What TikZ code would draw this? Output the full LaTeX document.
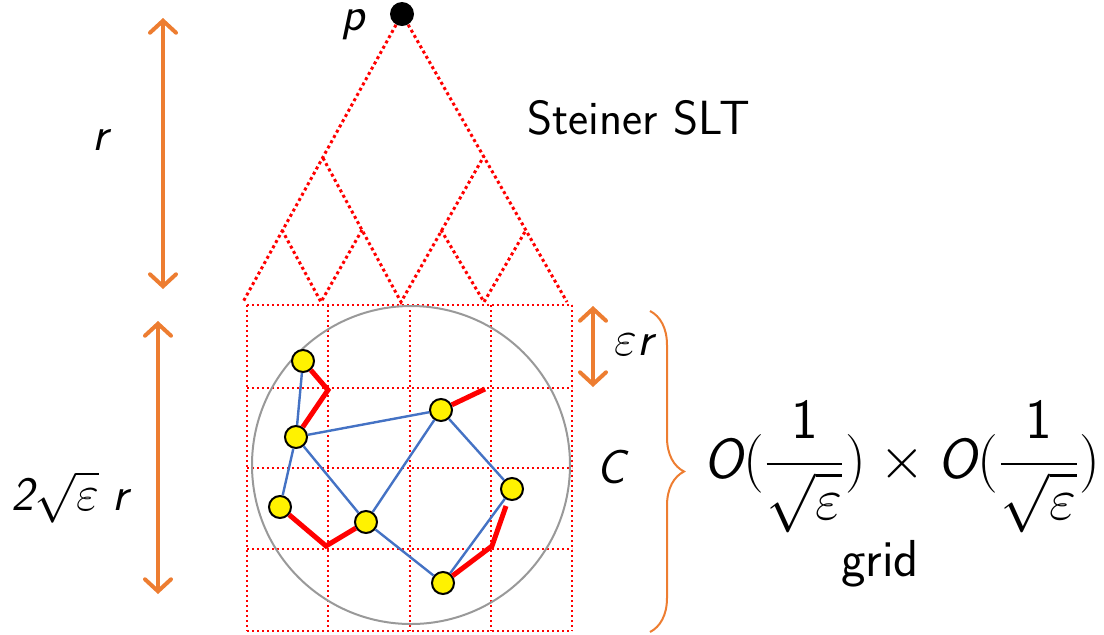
\documentclass[tikz,border=0pt]{standalone}
\usepackage{amsmath}
\usepackage{graphicx}
\usetikzlibrary{arrows.meta,decorations.pathreplacing}
\definecolor{dimorange}{RGB}{237,125,49}
\definecolor{edgeblue}{RGB}{68,114,196}
\newcommand{\sfit}[1]{\text{\sffamily\itshape #1}}
\newcommand{\sfup}[1]{\text{\sffamily #1}}

\begin{document}
\begin{tikzpicture}[x=0.5pt, y=-0.5pt,
    lbl/.style={font=\fontsize{24}{29}\selectfont\sffamily, inner sep=0pt},
    tree/.style={red, line width=1.5pt, dash pattern=on 1.5pt off 1.5pt},
    gridline/.style={red, line width=1.2pt, dash pattern=on 1.2pt off 1.3pt},
    term/.style={circle, draw=black, fill=yellow, line width=1pt, minimum size=11pt, inner sep=0pt},
    edge/.style={edgeblue, line width=1.2pt},
    steiner/.style={red, line width=2.5pt},
    dim/.style={dimorange, line width=2pt, line cap=round,
      {Straight Barb[length=6pt, width=13pt, line cap=round]}-{Straight Barb[length=6pt, width=13pt, line cap=round]}}
  ]
    \useasboundingbox (0,0) rectangle (1104,634);

    % root and the Steiner shallow-light tree
    \node[circle, fill=black, minimum size=12pt, inner sep=0pt] (p) at (402,14) {};
    \node[lbl] (plbl) at (353,25) {$\sfit{p}$};
    \coordinate (bl) at (243,302);
    \coordinate (br) at (567,302);
    \coordinate (l1) at (323,158);
    \coordinate (r1) at (484,156);
    \coordinate (m) at (401,302);
    \coordinate (l2) at (282,230);
    \coordinate (q1) at (362,230);
    \coordinate (b1) at (321,302);
    \coordinate (q2) at (441,230);
    \coordinate (r2) at (526,230);
    \coordinate (b2) at (484,302);
    \draw[tree] (p) -- (bl);
    \draw[tree] (p) -- (br);
    \draw[tree] (l1) -- (m) -- (r1);
    \draw[tree] (l2) -- (b1) -- (q1);
    \draw[tree] (q2) -- (b2) -- (r2);
    \node[lbl, anchor=west] (slt) at (527,118) {Steiner SLT};

    % grid over the cluster
    \foreach \gx in {247,328,410,491,572}
      \draw[gridline] (\gx,305) -- (\gx,631);
    \foreach \gy in {305,388,468,549,631}
      \draw[gridline] (247,\gy) -- (572,\gy);
    \draw[gray!80, line width=1pt] (411,465) circle[radius=159];

    % terminals
    \node[term] (n1) at (303,361) {};
    \node[term] (n2) at (296,437) {};
    \node[term] (n3) at (280,507) {};
    \node[term] (n4) at (366,522) {};
    \node[term] (n5) at (441,410) {};
    \node[term] (n6) at (512,489) {};
    \node[term] (n7) at (443,583) {};
    \coordinate (s1) at (328,390);
    \coordinate (s2) at (485,389);
    \coordinate (s3) at (326,546);
    \coordinate (s4) at (492,546);
    \coordinate (s5) at (506,506);

    \draw[edge] (n1) -- (n2);
    \draw[edge] (n2) -- (n3);
    \draw[edge] (n2) -- (n5);
    \draw[edge] (n2) -- (n4);
    \draw[edge] (n4) -- (n5);
    \draw[edge] (n5) -- (n6);
    \draw[edge] (n4) -- (n7);
    \draw[edge] (n7) -- (n6);

    \draw[steiner] (n1) -- (s1) -- (n2);
    \draw[steiner] (n5) -- (s2);
    \draw[steiner] (n3) -- (s3) -- (n4);
    \draw[steiner] (n7) -- (s4) -- (s5);

    % dimensions
    \coordinate (rtop) at (163,18);
    \coordinate (rbot) at (163,289);
    \coordinate (ctop) at (158,321);
    \coordinate (cbot) at (158,594);
    \coordinate (etop) at (593,306);
    \coordinate (ebot) at (593,387);
    \draw[dim] (rtop) -- (rbot);
    \draw[dim] (ctop) -- (cbot);
    \draw[dim] (etop) -- (ebot);
    \node[lbl] (rlbl) at (100,140) {$\sfit{r}$};
    \node[lbl] (clbl) at (70,497) {$\sfit{2}\sqrt{\varepsilon}\;\sfit{r}$};
    \node[lbl] (elbl) at (634,345) {$\varepsilon\sfit{r}$};
    \node[lbl] (cname) at (611,467) {$\sfit{C}$};

    % brace and grid size
    \draw[dimorange, line width=1pt, decorate, decoration={brace, amplitude=17pt}] (650,311) -- (650,632);
    \node[lbl] (size) at (902,467)
      {\scalebox{1.18}{$\sfit{O}(\dfrac{\sfup{1}}{\sqrt{\varepsilon}})\times\sfit{O}(\dfrac{\sfup{1}}{\sqrt{\varepsilon}})$}};
    \node[lbl, font=\fontsize{26}{31}\selectfont\sffamily] (gridlbl) at (880,564) {grid};
  \end{tikzpicture}
\end{document}
